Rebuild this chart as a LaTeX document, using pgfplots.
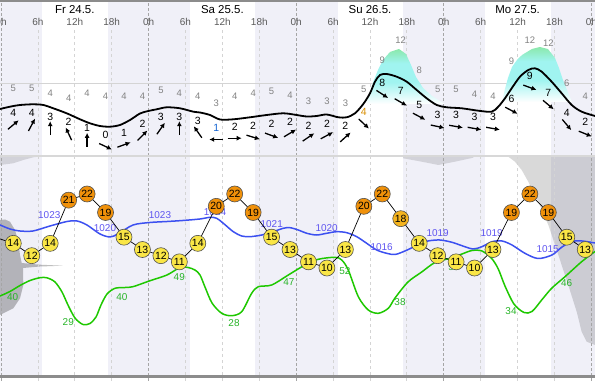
\documentclass[border=0pt]{standalone}
\usepackage{pgfplots}
\pgfplotsset{compat=1.18}
\usepgfplotslibrary{fillbetween}
\usetikzlibrary{arrows.meta}
\usepackage{fontspec}
\setmainfont{Liberation Sans}
\definecolor{night}{RGB}{240,240,248}
\definecolor{presscol}{RGB}{60,80,240}
\definecolor{presslab}{RGB}{95,85,240}
\definecolor{humcol}{RGB}{30,200,0}
\definecolor{humlab}{RGB}{40,180,40}
\definecolor{tyel}{RGB}{250,230,70}
\definecolor{tmid}{RGB}{245,180,30}
\definecolor{tora}{RGB}{240,145,10}
\definecolor{gustg}{RGB}{130,228,145}
\definecolor{gustc}{RGB}{160,244,240}
\definecolor{gridd}{RGB}{165,165,165}
\definecolor{gridl}{RGB}{212,212,212}
\definecolor{sepc}{RGB}{216,216,216}
\definecolor{borderc}{RGB}{140,140,140}
\definecolor{windorange}{RGB}{215,140,0}
\definecolor{windblue}{RGB}{20,100,210}
\definecolor{hourc}{RGB}{90,90,90}
\definecolor{gustnum}{RGB}{130,130,130}
\definecolor{circedge}{RGB}{80,80,80}
\pgfdeclareverticalshading{gustshade}{100bp}{color(0bp)=(white); color(25bp)=(white); color(45bp)=(gustc); color(62bp)=(gustc); color(80bp)=(gustg); color(100bp)=(gustg)}

\pgfplotsset{
  base/.style={scale only axis, width=595bp, height=381bp, at={(0,0)}, anchor=south west,
    hide axis, xmin=-0.163, xmax=96.59},
  txt/.style 2 args={only marks, mark=none, point meta=explicit symbolic, nodes near coords,
    every node near coord/.append style={anchor=center, inner sep=0pt, text=#1, font=#2}},
}
\newcommand{\fs}[1]{\fontsize{#1}{#1}\selectfont}

\begin{document}
\begin{tikzpicture}
%================ panel axis (y = picture height in px, upward) ================
\begin{axis}[base, ymin=0, ymax=381]
% night bands
\addplot[fill=night, draw=none] coordinates {(-1,6)(6.7,6)(6.7,379)(-1,379)} -- cycle;
\addplot[fill=night, draw=none] coordinates {(17.4,6)(30.7,6)(30.7,379)(17.4,379)} -- cycle;
\addplot[fill=night, draw=none] coordinates {(41.3,6)(54.8,6)(54.8,379)(41.3,379)} -- cycle;
\addplot[fill=night, draw=none] coordinates {(65.4,6)(78.7,6)(78.7,379)(65.4,379)} -- cycle;
\addplot[fill=night, draw=none] coordinates {(89.4,6)(98,6)(98,379)(89.4,379)} -- cycle;
% grey cloud areas in lower panel
\addplot[fill=black, fill opacity=0.25, draw=none] coordinates {(-0.5,161)(-0.16,161)(0.65,161.5)(1.46,159.3)(2.28,151)(2.81,139.3)(3.09,126)(3.37,118)(6.34,116.3)(10.08,115.3)(6.34,114.5)(3.58,113)(3.63,96)(3.09,82.7)(2.0,72.7)(0.37,67.7)(-0.16,66)(-0.5,66)} -- cycle;
\addplot[fill=black, fill opacity=0.12, draw=none] coordinates {(-0.5,225)(6.88,225)(5.25,223.7)(3.63,221)(2.0,217.7)(-0.16,216)(-0.5,216)} -- cycle;
\addplot[fill=black, fill opacity=0.12, draw=none] coordinates {(65.37,225)(76.8,225)(76.8,223.3)(73.82,219.3)(71.11,216)(68.41,219.3)(65.37,222.7)} -- cycle;
\addplot[fill=black, fill opacity=0.15, draw=none] coordinates {(82.49,225)(97.2,225)(97.2,36)(96.59,36)(95.24,39.3)(94.42,49.3)(93.61,69.3)(92.24,96)(90.63,126)(89.0,156)(87.37,179.3)(85.74,199.3)(84.67,211)(83.58,219.3)(82.49,224.3)} -- cycle;
% gust band (white) between gust line and wind line
\addplot[draw=none, name path=gust, smooth, tension=0.5] coordinates {(-0.5,283)(2,283.7)(5,283.7)(8,278.7)(11,273.7)(14,278.7)(17,275.3)(20,275.3)(23,275.3)(26,281.3)(29,278.7)(32,275.3)(35,268.7)(38,275.3)(41,278.7)(44,280.3)(47,277)(50,271)(53,271)(56,268.7)(59,282.7)(62,312)(65,331.3)(68,301.3)(71,282.7)(74,282.7)(77,278)(80,276)(83,311)(86,331.3)(89,328.7)(92,288.7)(95,275.3)(97.2,275)};
\addplot[draw=none, name path=windp, smooth, tension=0.5] coordinates {(-0.5,271.5)(1.46,274.3)(3.09,276)(5.25,276.7)(6.88,276)(8.50,272.7)(10.68,267.7)(12.85,261.7)(14.47,257.7)(16.10,255)(17.72,254.3)(19.35,256)(20.98,261)(22.60,267.5)(23.95,270)(25.32,271.7)(26.94,273.7)(29.11,272.7)(31.27,269.3)(32.36,268.5)(33.98,266)(35.61,261.5)(37.77,261.7)(40.49,263.7)(43.20,266)(45.90,267.7)(48.08,266)(49.71,264.5)(51.33,265)(52.96,266.5)(54.85,263.7)(56.21,263.7)(57.56,267.7)(58.91,277)(60.00,287.7)(60.81,299.3)(61.63,306)(62.72,307)(64.34,304.3)(65.97,299.3)(67.59,291)(69.22,282.7)(70.85,276)(72.47,273.7)(74.91,272.7)(77.61,270.3)(79.79,269.3)(80.86,274.3)(81.95,282.7)(83.04,292.7)(84.39,304.3)(85.74,311)(86.83,312.7)(87.92,309.3)(89.54,299.3)(91.17,287.7)(92.80,276)(94.42,269.3)(96.59,265)(97.2,264)};
\addplot[fill=white, draw=none] fill between[of=gust and windp];
% vertical grid lines
\addplot[ycomb, draw=gridl, dash pattern=on 3bp off 3bp, line width=0.8bp] coordinates {(6,351)(12,351)(18,351)(30,351)(36,351)(42,351)(54,351)(60,351)(66,351)(78,351)(84,351)(90,351)};
\addplot[ycomb, draw=gridd, dash pattern=on 3bp off 2bp, line width=0.8bp] coordinates {(0,381)(24,381)(48,381)(72,381)(96,381)};
% horizontal lines, separator, borders
\addplot[draw=gridl, line width=0.8bp] coordinates {(-1,298)(98,298)};
\addplot[draw=sepc, line width=1.5bp] coordinates {(-1,225)(98,225)};
\addplot[draw=borderc, line width=4bp] coordinates {(-1,381)(98,381)};
\addplot[draw=borderc, line width=3bp] coordinates {(-1,4.5)(98,4.5)};
% gust peaks
\addplot[draw=none, shading=gustshade] coordinates {(59.35,277)(60.0,289)(60.65,301)(61.3,311)(62.11,321)(63.25,329)(64.72,332)(65.85,327)(66.67,316)(67.48,304)(68.62,293)(70.08,285)(72.2,277)} -- cycle;
\addplot[draw=none, shading=gustshade] coordinates {(81.46,279)(81.95,292)(82.44,303)(83.09,314)(83.9,321)(84.72,326)(86.34,332)(87.64,334)(88.94,332)(90.08,323)(90.73,313)(91.38,301)(92.03,291)(92.85,279)} -- cycle;
% wind line
\addplot[black, line width=1.8bp, smooth, tension=0.5] coordinates {(-0.5,271.5)(1.46,274.3)(3.09,276)(5.25,276.7)(6.88,276)(8.50,272.7)(10.68,267.7)(12.85,261.7)(14.47,257.7)(16.10,255)(17.72,254.3)(19.35,256)(20.98,261)(22.60,267.5)(23.95,270)(25.32,271.7)(26.94,273.7)(29.11,272.7)(31.27,269.3)(32.36,268.5)(33.98,266)(35.61,261.5)(37.77,261.7)(40.49,263.7)(43.20,266)(45.90,267.7)(48.08,266)(49.71,264.5)(51.33,265)(52.96,266.5)(54.85,263.7)(56.21,263.7)(57.56,267.7)(58.91,277)(60.00,287.7)(60.81,299.3)(61.63,306)(62.72,307)(64.34,304.3)(65.97,299.3)(67.59,291)(69.22,282.7)(70.85,276)(72.47,273.7)(74.91,272.7)(77.61,270.3)(79.79,269.3)(80.86,274.3)(81.95,282.7)(83.04,292.7)(84.39,304.3)(85.74,311)(86.83,312.7)(87.92,309.3)(89.54,299.3)(91.17,287.7)(92.80,276)(94.42,269.3)(96.59,265)(97.2,264)};
% gust numbers
\addplot[txt={gustnum}{\fs{9.5}}] table[meta=l] {
h y l
2 292.7 5
5 292.7 5
8 287.7 4
11 282.7 4
14 287.7 4
17 284.3 4
20 284.3 4
23 284.3 4
26 290.3 5
29 287.7 4
32 284.3 4
35 277.7 3
38 284.3 4
41 287.7 4
44 289.3 5
47 286 4
50 280 3
53 280 3
56 277.7 3
59 291.7 5
62 321 9
65 340.3 12
68 310.3 8
71 291.7 5
74 291.7 5
77 287 4
80 285 4
83 320 9
86 340.3 12
89 337.7 12
92 297.7 6
95 284.3 4
};
% wind numbers
\addplot[txt={black}{\fs{10.5}}] table[meta=l] {
h y l
2 267.7 4
5 267.7 4
8 264.3 3
11 258.7 2
14 252.7 1
17 246 0
20 247.7 1
23 257 2
26 264 3
29 264.3 3
32 260.5 3
38 254.3 2
41 255.3 2
44 257 2
47 259.3 2
50 255.3 2
53 257 2
56 255.3 2
62 298.3 8
65 290.3 7
68 276 5
71 266 3
74 266 3
77 264 3
80 264 3
83 282 6
86 305 9
89 287.7 7
92 267.7 4
95 258.7 2
};
\addplot[txt={windblue}{\fs{10.5}}] table[meta=l] {
h y l
35 253 1
};
\addplot[txt={windorange}{\fs{10.5}}] table[meta=l] {
h y l
59 268.7 4
};
% wind direction arrows
\addplot[black, line width=1.3bp, -{Latex[length=5bp,width=5bp]},
  quiver={u={14*cos(\thisrow{a})/6.15}, v={14*sin(\thisrow{a})}}]
  table[x expr={\thisrow{h}-7*cos(\thisrow{a})/6.15}, y expr={\thisrow{y}-11.5-7*sin(\thisrow{a})}] {
h y a
2 267.7 40
5 267.7 62
8 264.3 90
11 258.7 115
14 252.7 90
17 246 -25
20 247.7 20
23 257 45
26 264 55
29 264.3 90
32 260.5 125
35 253 180
38 254.3 0
41 255.3 -17
44 257 -20
47 259.3 31
50 255.3 34
53 257 28
56 255.3 42
59 268.7 -43
62 298.3 -33
65 290.3 -30
68 276 -28
71 266 -12
74 266 -10
77 264 -10
80 264 -10
83 282 -28
86 305 -20
89 287.7 -40
92 267.7 -50
95 258.7 -22
};
% day labels
\addplot[txt={black}{\fs{11.5}}] table[col sep=comma, meta=l] {
h,y,l
12,371,Fr 24.5.
36,371,Sa 25.5.
60,371,Su 26.5.
84,371,Mo 27.5.
};
% hour labels
\addplot[txt={hourc}{\fs{10}}] table[meta=l] {
h y l
0 359 0h
6 359 6h
12 359 12h
18 359 18h
24 359 0h
30 359 6h
36 359 12h
42 359 18h
48 359 0h
54 359 6h
60 359 12h
66 359 18h
72 359 0h
78 359 6h
84 359 12h
90 359 18h
96 359 0h
};
\end{axis}

%================ humidity axis (%) ================
\begin{axis}[base, ymin=7.82, ymax=143.89]
\addplot[humcol, line width=1.5bp, smooth, tension=0.5] coordinates {(-0.5,38.0)(-0.16,38.18)(1.46,39.79)(3.09,41.93)(4.72,43.71)(6.34,44.71)(7.48,44.68)(8.78,43.18)(9.92,39.61)(10.89,34.96)(12.03,30.32)(13.33,28.0)(14.47,28.36)(15.45,30.68)(16.26,34.96)(17.24,38.89)(18.54,40.93)(20.16,41.21)(21.46,41.5)(24.23,43.64)(26.99,45.68)(29.11,48.36)(30.41,48.36)(31.54,47.46)(32.36,45.68)(33.17,41.39)(34.31,35.68)(35.89,32.0)(37.51,31.14)(39.14,32.57)(40.76,39.14)(41.84,41.5)(44.02,42.11)(46.72,45.68)(49.43,49.25)(51.59,51.29)(54.31,52.0)(55.4,51.04)(56.47,47.46)(58.1,37.93)(59.72,33.18)(61.35,32.0)(62.98,33.79)(64.07,37.46)(66.18,43.18)(68.41,46.75)(70.57,50.14)(73.01,51.64)(74.96,53.18)(76.59,54.43)(78.21,54.25)(79.79,51.57)(80.86,47.82)(81.95,41.75)(83.41,35.32)(85.04,32.29)(86.34,32.64)(87.92,36.75)(89.54,40.93)(91.71,45.07)(94.42,50.43)(96.59,54.07)(97.2,55)};
\addplot[txt={humlab}{\fs{10}}] table[meta=l] {
h H l
1.9 37.71 40
10.94 29.0 29
19.67 37.71 40
28.99 44.86 49
37.89 28.43 28
46.83 43.29 47
55.93 47.21 52
64.88 36.14 38
73.66 48.54 55
82.93 32.93 34
91.98 42.71 46
};
\end{axis}

%================ pressure axis (hPa) ================
\begin{axis}[base, ymin=989.09, ymax=1070.67]
\addplot[presscol, line width=1.5bp, smooth, tension=0.5] coordinates {(-0.5,1022.6)(-0.16,1022.49)(1.46,1021.64)(3.09,1021.21)(5.20,1021.21)(7.97,1022.28)(10.73,1023.24)(12.36,1023.35)(13.98,1022.49)(16.10,1020.57)(17.72,1019.93)(19.02,1020.57)(21.46,1022.49)(24.23,1023.03)(26.99,1023.24)(29.59,1023.46)(32.36,1023.78)(33.98,1024.14)(35.07,1023.93)(36.15,1022.86)(37.77,1021.06)(39.14,1020.14)(40.49,1019.99)(42.39,1020.35)(44.28,1021.06)(45.90,1021.79)(46.99,1021.92)(48.34,1021.42)(49.71,1020.72)(51.33,1020.35)(52.96,1020.72)(54.59,1021.06)(56.21,1020.85)(57.84,1019.99)(59.46,1018.58)(61.09,1017.14)(62.72,1016.43)(64.07,1016.18)(65.69,1016.93)(68.13,1018.43)(69.43,1019.07)(71.38,1019.28)(73.33,1018.79)(74.96,1018.06)(76.75,1017.36)(78.21,1017.85)(79.84,1018.92)(81.46,1019.07)(83.09,1018.21)(85.2,1016.43)(87.32,1015.32)(89.59,1016.07)(91.22,1017.78)(92.85,1018.96)(94.47,1019.07)(96.59,1018.64)(97.2,1018.5)};
\addplot[txt={presslab}{\fs{10}}] table[meta=l] {
h p l
-1.6 1023.57 1022
7.85 1024.64 1023
16.91 1021.79 1020
25.85 1024.64 1023
34.8 1025.34 1024
44.02 1022.71 1021
52.96 1021.79 1020
61.9 1017.85 1016
71.0 1020.72 1019
79.79 1020.72 1019
88.89 1017.29 1015
98.05 1019.9 1019
};
\end{axis}

%================ temperature axis (degC) ================
\begin{axis}[base, ymin=-8.31, ymax=53.44]
\addplot[black, line width=0.7bp] table {
h T
-1 15
2 14
5 12
8 14
11 21
14 22
17 19
20 15
23 13
26 12
29 11
32 14
35 20
38 22
41 19
44 15
47 13
50 11
53 10
56 13
59 20
62 22
65 18
68 14
71 12
74 11
77 10
80 13
83 19
86 22
89 19
92 15
95 13
};
\addplot[only marks, mark=*, mark size=8bp, mark options={fill=tyel, draw=circedge, line width=0.6bp},
  point meta=explicit symbolic, nodes near coords,
  every node near coord/.append style={anchor=center, inner sep=0pt, text=black, font=\fs{10.5}}]
  table[meta=l] {
h T l
-1 15 15
2 14 14
5 12 12
8 14 14
20 15 15
23 13 13
26 12 12
29 11 11
32 14 14
44 15 15
47 13 13
50 11 11
53 10 10
56 13 13
68 14 14
71 12 12
74 11 11
77 10 10
80 13 13
92 15 15
95 13 13
};
\addplot[only marks, mark=*, mark size=8bp, mark options={fill=tmid, draw=circedge, line width=0.6bp},
  point meta=explicit symbolic, nodes near coords,
  every node near coord/.append style={anchor=center, inner sep=0pt, text=black, font=\fs{10.5}}]
  table[meta=l] {
h T l
65 18 18
};
\addplot[only marks, mark=*, mark size=8bp, mark options={fill=tora, draw=circedge, line width=0.6bp},
  point meta=explicit symbolic, nodes near coords,
  every node near coord/.append style={anchor=center, inner sep=0pt, text=black, font=\fs{10.5}}]
  table[meta=l] {
h T l
11 21 21
14 22 22
17 19 19
35 20 20
38 22 22
41 19 19
59 20 20
62 22 22
83 19 19
86 22 22
89 19 19
};
\end{axis}
\pgfresetboundingbox
\useasboundingbox (0,0) rectangle (595bp,381bp);
\end{tikzpicture}
\end{document}
